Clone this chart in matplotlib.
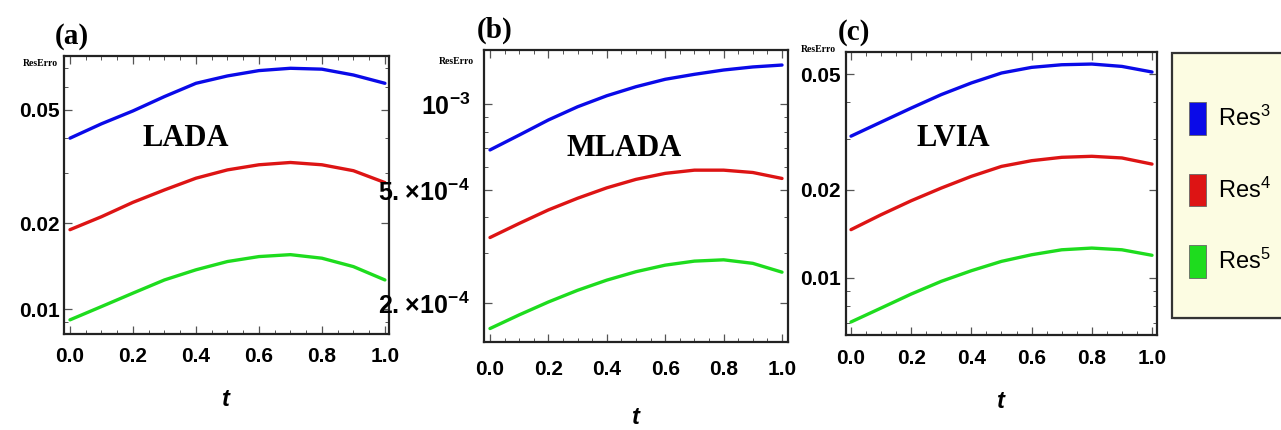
import numpy as np
import matplotlib.pyplot as plt
from matplotlib.patches import Patch, Rectangle
from matplotlib.ticker import LogLocator, MultipleLocator, NullFormatter

plt.rcParams['font.family'] = ['Liberation Sans', 'DejaVu Sans']
plt.rcParams['mathtext.fontset'] = 'custom'
plt.rcParams['mathtext.rm'] = 'Liberation Sans'

# Data (log-scale residual errors)
t = [0.0, 0.1, 0.2, 0.3, 0.4, 0.5, 0.6, 0.7, 0.8, 0.9, 1.0]

lada_res3 = [0.0398, 0.0447, 0.0496, 0.0557, 0.0620, 0.0658, 0.0687, 0.0700, 0.0695, 0.0663, 0.0620]
lada_res4 = [0.0190, 0.0211, 0.0237, 0.0262, 0.0288, 0.0308, 0.0321, 0.0327, 0.0321, 0.0306, 0.0278]
lada_res5 = [0.00917, 0.01021, 0.01138, 0.01266, 0.01374, 0.01469, 0.01529, 0.01553, 0.01509, 0.01410, 0.01266]

mlada_res3 = [6.90e-4, 7.78e-4, 8.79e-4, 9.78e-4, 1.069e-3, 1.150e-3, 1.221e-3, 1.271e-3, 1.316e-3, 1.349e-3, 1.370e-3]
mlada_res4 = [3.40e-4, 3.81e-4, 4.25e-4, 4.67e-4, 5.08e-4, 5.44e-4, 5.71e-4, 5.86e-4, 5.86e-4, 5.75e-4, 5.48e-4]
mlada_res5 = [1.63e-4, 1.82e-4, 2.02e-4, 2.22e-4, 2.41e-4, 2.58e-4, 2.72e-4, 2.81e-4, 2.84e-4, 2.76e-4, 2.57e-4]

lvia_res3 = [0.0306, 0.0342, 0.0382, 0.0425, 0.0466, 0.0504, 0.0527, 0.0538, 0.0541, 0.0531, 0.0508]
lvia_res4 = [0.01462, 0.01645, 0.01837, 0.02031, 0.02228, 0.02410, 0.02521, 0.02589, 0.02610, 0.02576, 0.02454]
lvia_res5 = [0.00705, 0.00787, 0.00879, 0.00972, 0.01057, 0.01138, 0.01199, 0.01247, 0.01264, 0.01247, 0.01194]

series_labels = [r'$\mathregular{Res^3}$', r'$\mathregular{Res^4}$', r'$\mathregular{Res^5}$']
colors = ['#0a0ae8', '#dd1414', '#1edc1e']

W, H = 1281, 430
fig = plt.figure(figsize=(W / 100, H / 100), dpi=100)


def px_axes(left, top, right, bottom):
    return fig.add_axes([left / W, 1 - bottom / H, (right - left) / W, (bottom - top) / H])


def px_text(x, y, s, **kw):
    fig.text(x / W, 1 - y / H, s, ha='center', va='center', **kw)


serif = ['Liberation Serif', 'DejaVu Serif']
xticks = [0.0, 0.2, 0.4, 0.6, 0.8, 1.0]
xticklabels = ['0.0', '0.2', '0.4', '0.6', '0.8', '1.0']

panels = [
    dict(box=(64, 56, 389, 334), ys=[lada_res3, lada_res4, lada_res5],
         yt=[0.01, 0.02, 0.05], yl=['0.01', '0.02', '0.05'], ysize=15,
         ylim=(0.00818, 0.0773), xlim=(-0.019, 1.013), ypad=3, xpad=9),
    dict(box=(484, 50, 788, 342), ys=[mlada_res3, mlada_res4, mlada_res5],
         yt=[2e-4, 5e-4, 1e-3],
         yl=[r'$\mathregular{2.\!\times\!10^{-4}}$', r'$\mathregular{5.\!\times\!10^{-4}}$',
             r'$\mathregular{10^{-3}}$'], ysize=18,
         ylim=(1.462e-4, 1.547e-3), xlim=(-0.0205, 1.0205), ypad=10, xpad=13),
    dict(box=(846, 52, 1157, 335), ys=[lvia_res3, lvia_res4, lvia_res5],
         yt=[0.01, 0.02, 0.05], yl=['0.01', '0.02', '0.05'], ysize=15,
         ylim=(0.00636, 0.0595), xlim=(-0.0166, 1.0166), ypad=4, xpad=10),
]

for p in panels:
    ax = px_axes(*p['box'])
    for y, c in zip(p['ys'], colors):
        ax.plot(t, y, color=c, linewidth=2.4, solid_capstyle='round')
    ax.set_yscale('log')
    ax.set_ylim(*p['ylim'])
    ax.set_xlim(*p['xlim'])
    ax.set_xticks(xticks, labels=xticklabels, fontsize=15, fontweight='bold')
    ax.xaxis.set_minor_locator(MultipleLocator(0.05))
    ax.set_yticks(p['yt'], labels=p['yl'], fontsize=p['ysize'], fontweight='bold')
    ax.yaxis.set_minor_locator(LogLocator(base=10, subs=np.arange(1, 10) * 1.0, numticks=20))
    ax.yaxis.set_minor_formatter(NullFormatter())
    ax.tick_params(which='both', direction='in', top=True, right=True, color='#555555')
    ax.tick_params(which='major', length=6, width=0.9)
    ax.tick_params(which='minor', length=3, width=0.7)
    ax.tick_params(axis='y', pad=p['ypad'])
    ax.tick_params(axis='x', pad=p['xpad'])
    for s in ax.spines.values():
        s.set_linewidth(1.6)
        s.set_color('#222222')

# panel letters, axis captions and method names
px_text(72, 36, '(a)', fontsize=21, fontweight='bold', family=serif)
px_text(495, 30, '(b)', fontsize=21, fontweight='bold', family=serif)
px_text(854, 32, '(c)', fontsize=21, fontweight='bold', family=serif)

px_text(40, 63, 'ResErro', fontsize=7, fontweight='bold', family=serif)
px_text(456, 62, 'ResErro', fontsize=7, fontweight='bold', family=serif)
px_text(818, 50, 'ResErro', fontsize=7, fontweight='bold', family=serif)

px_text(186, 138, 'LADA', fontsize=22, fontweight='bold', family=serif)
px_text(624, 148, 'MLADA', fontsize=22, fontweight='bold', family=serif)
px_text(953, 139, 'LVIA', fontsize=22, fontweight='bold', family=serif)

px_text(226, 400, 't', fontsize=17, fontweight='bold', fontstyle='italic')
px_text(636, 418, 't', fontsize=17, fontweight='bold', fontstyle='italic')
px_text(1001, 401, 't', fontsize=17, fontweight='bold', fontstyle='italic')

# legend box on the right
fig.patches.append(Rectangle((1174 / W, 1 - 320 / H), 130 / W, 266 / H, transform=fig.transFigure,
                             facecolor='#eeeeee', edgecolor='none', zorder=0))
fig.patches.append(Rectangle((1172 / W, 1 - 318 / H), 130 / W, 265 / H, transform=fig.transFigure,
                             facecolor='#fcfce2', edgecolor='#333333', linewidth=1.6, zorder=1))

handles = [Patch(facecolor=c, edgecolor='#666666', linewidth=0.6) for c in colors]
fig.legend(handles, series_labels, loc='upper left', bbox_to_anchor=(1189 / W, 1 - 102 / H),
           frameon=False, fontsize=17, handlelength=0.72, handleheight=1.75,
           handletextpad=0.5, labelspacing=1.65, borderpad=0, borderaxespad=0)

fig.savefig('out.png', dpi=100)
